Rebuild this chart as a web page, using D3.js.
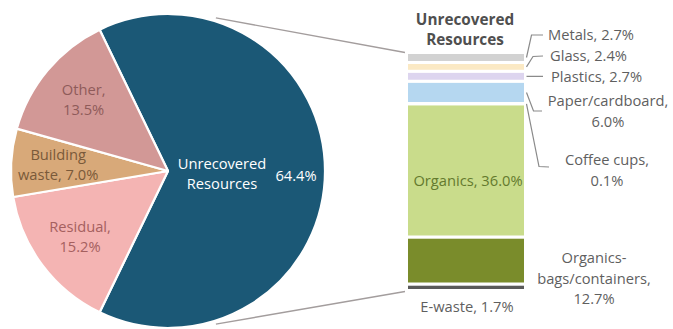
<!DOCTYPE html>
<html>
<head>
<meta charset="utf-8">
<script src="https://cdn.jsdelivr.net/npm/d3@7/dist/d3.min.js"></script>
<style>
  html, body { margin: 0; padding: 0; background: #ffffff; }
  svg { display: block; font-family: "Open Sans", "Noto Sans", sans-serif; }
</style>
</head>
<body>
<svg id="chart" width="673" height="329"></svg>
<script>
// Waste stream composition (share of total, %)
const pieCategories = ["Unrecovered Resources", "Residual", "Building waste", "Other"];
const pieValues = [64.4, 15.2, 7.0, 13.5];
const pieColors = ["#1b5876", "#f4b4b3", "#d8a979", "#d29896"];
const pieTextColors = ["#ffffff", "#a5605f", "#7a5a3a", "#8f5b5a"];

// Unrecovered resources broken down, listed top to bottom of the stack (%)
const barCategories = ["Metals", "Glass", "Plastics", "Paper/cardboard", "Coffee cups",
                       "Organics", "Organics-bags/containers", "E-waste"];
const barValues = [2.7, 2.4, 2.7, 6.0, 0.1, 36.0, 12.7, 1.7];
const barColors = ["#d2d2d2", "#fbe9c4", "#ddd5ef", "#b5d7f0", "#e8e8e8",
                   "#c9dc8b", "#7a8c2b", "#5a5a5a"];

const fmt = v => d3.format(".1f")(v) + "%";
const svg = d3.select("#chart");
const fs = 14.7;

// ---------- pie ----------
const cx = 168, cy = 171, R = 157;
const firstShare = pieValues[0] / d3.sum(pieValues);
// rotate so that the first slice faces the breakdown bar
const start = Math.PI / 2 - firstShare * Math.PI;
const pie = d3.pie().sort(null).startAngle(start).endAngle(start + 2 * Math.PI);
const arcs = pie(pieValues);
const arc = d3.arc().innerRadius(0).outerRadius(R);
const labelArc = d3.arc().innerRadius(110).outerRadius(110);

const gPie = svg.append("g").attr("transform", `translate(${cx},${cy})`);
gPie.selectAll("path.slice")
  .data(arcs)
  .join("path")
  .attr("class", "slice")
  .attr("d", arc)
  .attr("fill", (d, i) => pieColors[i])
  .attr("stroke", "#ffffff")
  .attr("stroke-width", 2.2)
  .attr("stroke-linejoin", "round");

// slice labels: line break position per category
const pieLabelLines = (name, value) => {
  if (name === "Building waste") return ["Building", "waste, " + fmt(value)];
  return [name + ",", fmt(value)];
};
const lineH = 20;
gPie.selectAll("text.slabel")
  .data(arcs.slice(1))
  .join("text")
  .attr("class", "slabel")
  .attr("text-anchor", "middle")
  .attr("font-size", fs)
  .attr("fill", (d, i) => pieTextColors[i + 1])
  .each(function (d, i) {
    const [x, y] = labelArc.centroid(d);
    const lines = pieLabelLines(pieCategories[i + 1], d.value);
    const t = d3.select(this);
    lines.forEach((ln, k) => {
      t.append("tspan").attr("x", x).attr("y", y - 5 + k * lineH).text(ln);
    });
  });

// main slice label
const mainWords = pieCategories[0].split(" ");
const mainLabel = gPie.append("text")
  .attr("text-anchor", "middle").attr("font-size", fs).attr("fill", pieTextColors[0]);
mainWords.forEach((w, k) => {
  mainLabel.append("tspan").attr("x", 54).attr("y", -2 + k * lineH).text(w);
});
gPie.append("text")
  .attr("x", 128).attr("y", 10)
  .attr("text-anchor", "middle").attr("font-size", fs).attr("fill", pieTextColors[0])
  .text(fmt(pieValues[0]));

// ---------- stacked breakdown bar ----------
const barX0 = 406.5, barW = 119;
const total = d3.sum(barValues);
const y = d3.scaleLinear().domain([0, total]).range([52.5, 290.5]);
const cum = d3.cumsum(barValues);
const segs = barValues.map((v, i) => ({ name: barCategories[i], value: v, y0: cum[i] - v, y1: cum[i], i }));

// connector lines from the pie to the bar
const tA = 17 * Math.PI / 180;
const connectors = [
  [[cx + R * Math.sin(tA) + 2, cy - R * Math.cos(tA) - 3], [barX0 - 1.5, y(0)]],
  [[cx + R * Math.sin(tA) + 2, cy + R * Math.cos(tA) + 3], [barX0 - 1.5, y(total) + 1]]
];
svg.selectAll("path.conn")
  .data(connectors)
  .join("path")
  .attr("class", "conn")
  .attr("d", d3.line())
  .attr("fill", "none")
  .attr("stroke", "#a39d9d")
  .attr("stroke-width", 1.4);

svg.selectAll("rect.seg")
  .data(segs)
  .join("rect")
  .attr("class", "seg")
  .attr("x", barX0)
  .attr("width", barW)
  .attr("y", d => y(d.y0))
  .attr("height", d => y(d.y1) - y(d.y0))
  .attr("fill", d => barColors[d.i])
  .attr("stroke", "#ffffff")
  .attr("stroke-width", 3);

const barCx = barX0 + barW / 2;

// bar title
const title = svg.append("text")
  .attr("text-anchor", "middle").attr("font-size", 15.3).attr("font-weight", "bold")
  .attr("fill", "#4f4f4f");
mainWords.forEach((w, k) => {
  title.append("tspan").attr("x", barCx - 1).attr("y", 25 + k * 20).text(w);
});

// label placement for each segment: anchor point, line layout and leader elbow
const barLabelLayout = {
  "Metals":          { x: 548, y: 39.5, anchor: "start", lines: v => ["Metals, " + fmt(v)], leader: [[531.5, 35], [543, 35]] },
  "Glass":           { x: 550, y: 61, anchor: "start", lines: v => ["Glass, " + fmt(v)], leader: [[533, 56.5], [543, 56]] },
  "Plastics":        { x: 551, y: 82, anchor: "start", lines: v => ["Plastics, " + fmt(v)], leader: [[543, 76.4]] },
  "Paper/cardboard": { x: 608, y: 106, anchor: "middle", lines: v => ["Paper/cardboard,", fmt(v)], leader: [[533.5, 111], [542, 111]] },
  "Coffee cups":     { x: 607, y: 165, anchor: "middle", lines: v => ["Coffee cups,", fmt(v)], leader: [[539, 166.5], [549, 167]] },
  "Organics":        { x: barCx + 2, y: 186, anchor: "middle", lines: v => ["Organics, " + fmt(v)], color: "#647a2e" },
  "Organics-bags/containers": { x: 594, y: 263, anchor: "middle", lines: v => ["Organics-", "bags/containers,", fmt(v)] },
  "E-waste":         { x: barCx + 1, y: 312, anchor: "middle", lines: v => ["E-waste, " + fmt(v)] }
};

segs.forEach(d => {
  const L = barLabelLayout[d.name];
  const t = svg.append("text")
    .attr("text-anchor", L.anchor)
    .attr("font-size", fs)
    .attr("fill", L.color || "#5f5f5f");
  L.lines(d.value).forEach((ln, k) => {
    t.append("tspan").attr("x", L.x).attr("y", L.y + k * 20.5).text(ln);
  });
  if (L.leader) {
    const midY = y((d.y0 + d.y1) / 2);
    const pts = [[barX0 + barW + 1, midY], ...L.leader];
    svg.append("path")
      .attr("d", d3.line()(pts))
      .attr("fill", "none")
      .attr("stroke", "#8a8a8a")
      .attr("stroke-width", 1.2);
  }
});
</script>
</body>
</html>
